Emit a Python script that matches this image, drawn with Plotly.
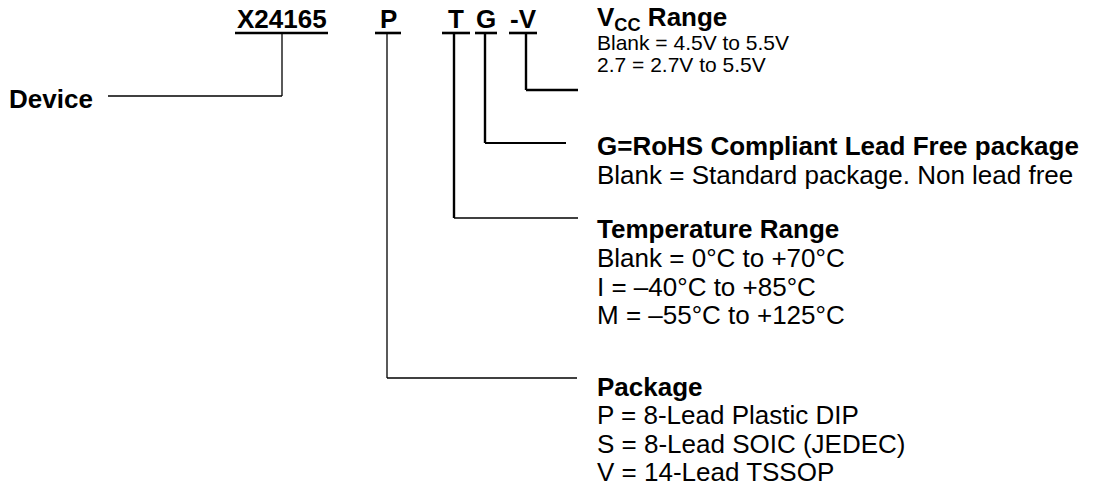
import plotly.graph_objects as go

# ---------------- data (text content) ----------------
part_fields = ["X24165", "P", "T", "G", "-V"]
device_label = "Device"
vcc_title = "V<sub>CC</sub> Range"
vcc_options = ["Blank = 4.5V to 5.5V", "2.7 = 2.7V to 5.5V"]
rohs_title = "G=RoHS Compliant Lead Free package"
rohs_options = ["Blank = Standard package. Non lead free"]
temp_title = "Temperature Range"
temp_options = ["Blank = 0°C to +70°C", "I = \u201340°C to +85°C", "M = \u201355°C to +125°C"]
pkg_title = "Package"
pkg_options = ["P = 8-Lead Plastic DIP", "S = 8-Lead SOIC (JEDEC)", "V = 14-Lead TSSOP"]

# ---------------- layout geometry (pixel space) ----------------
W, H = 1100, 497
FONT = "Liberation Sans, Arial, Helvetica, sans-serif"
BIG = 26
SMALL = 21
LABEL_Y = 19
UNDER_Y = 33
field_spans = [(235, 328), (375, 401), (442, 470), (475, 497), (509, 537)]
# connector: x of vertical, y end of vertical, x end of horizontal, widths (vertical, horizontal)
connectors = [
    (282, 96, 108, 1.3, 1.3),
    (387, 378, 577, 1.3, 1.3),
    (454, 218, 578, 2.4, 1.3),
    (485, 143, 566, 2.4, 2.0),
    (526, 90, 578, 2.4, 2.4),
]
TEXT_X = 595
blocks = [
    (vcc_title, vcc_options, 18, [42, 64], BIG, SMALL),
    (rohs_title, rohs_options, 146, [175], BIG, BIG),
    (temp_title, temp_options, 229, [258, 287, 315], BIG, BIG),
    (pkg_title, pkg_options, 387, [415, 444, 472], BIG, BIG),
]

fig = go.Figure()

# underlines
for (x0, x1) in field_spans:
    fig.add_trace(go.Scatter(x=[x0, x1], y=[UNDER_Y, UNDER_Y], mode="lines",
                             line=dict(color="black", width=2.6),
                             hoverinfo="skip", showlegend=False))

# connectors
for (xv, yend, xh, wv, wh) in connectors:
    fig.add_trace(go.Scatter(x=[xv, xv], y=[UNDER_Y, yend], mode="lines",
                             line=dict(color="black", width=wv),
                             hoverinfo="skip", showlegend=False))
    fig.add_trace(go.Scatter(x=[xv, xh], y=[yend, yend], mode="lines",
                             line=dict(color="black", width=wh),
                             hoverinfo="skip", showlegend=False))

annotations = []
# field labels
for label, (x0, x1) in zip(part_fields, field_spans):
    annotations.append(dict(x=(x0 + x1) / 2, y=LABEL_Y, text=f"<b>{label}</b>",
                            xanchor="center", yanchor="middle", showarrow=False,
                            font=dict(family=FONT, size=BIG, color="black")))

annotations.append(dict(x=7, y=99, text=f"<b>{device_label}</b>", xanchor="left",
                        yanchor="middle", showarrow=False,
                        font=dict(family=FONT, size=BIG, color="black")))

for title, opts, ty, oys, tsize, osize in blocks:
    annotations.append(dict(x=TEXT_X, y=ty, text=f"<b>{title}</b>", xanchor="left",
                            yanchor="middle", showarrow=False,
                            font=dict(family=FONT, size=tsize, color="black")))
    for o, oy in zip(opts, oys):
        annotations.append(dict(x=TEXT_X, y=oy, text=o, xanchor="left",
                                yanchor="middle", showarrow=False,
                                font=dict(family=FONT, size=osize, color="black")))

fig.update_layout(
    width=W, height=H,
    margin=dict(l=0, r=0, t=0, b=0),
    paper_bgcolor="white", plot_bgcolor="white",
    xaxis=dict(range=[0, W], visible=False, fixedrange=True),
    yaxis=dict(range=[H, 0], visible=False, fixedrange=True),
    annotations=annotations,
    showlegend=False,
)

fig.write_html(
    "out.html",
    config={"displayModeBar": False},
    post_script="document.body.style.margin='0';document.body.style.overflow='hidden';",
)
